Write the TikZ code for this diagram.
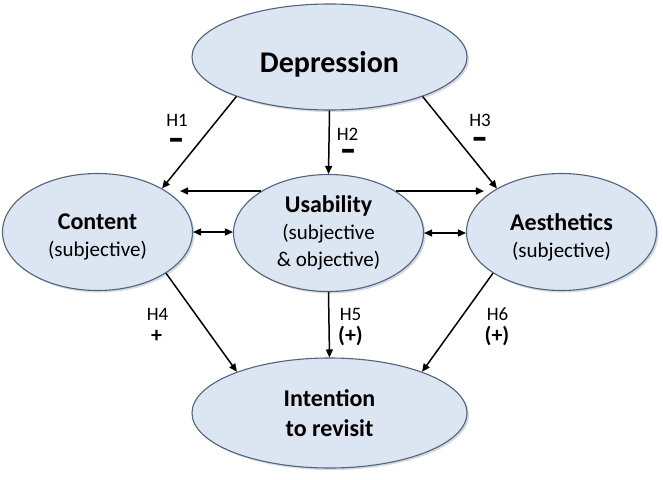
\documentclass[tikz,border=0pt]{standalone}
\usepackage{fontspec}
\setmainfont{Carlito}
\newfontfamily\dashfont{DejaVu Sans}
\usetikzlibrary{shapes.geometric,arrows.meta,calc,shadows}
\definecolor{efill}{HTML}{DCE6F2}
\definecolor{edraw}{HTML}{4F6480}
\begin{document}
\begin{tikzpicture}[x=1pt,y=-1pt,
  ell/.style={ellipse, draw=edraw, line width=1.1pt, fill=efill, inner sep=0pt, align=center,
    drop shadow={shadow xshift=2pt, shadow yshift=-2pt, opacity=0.25, fill=black!60}},
  midell/.style={ell, minimum width=190pt, minimum height=117pt},
  txt/.style={align=center, inner sep=0pt, font=\fontsize{21}{27}\selectfont},
  arr/.style={-{Triangle[length=8pt,width=7pt]}, line width=1.5pt},
  darr/.style={{Triangle[length=8pt,width=7pt]}-{Triangle[length=8pt,width=7pt]}, line width=1.5pt},
  hlab/.style={font=\fontsize{19}{19}\selectfont, anchor=base, inner sep=0pt},
  sgn/.style={font=\bfseries\fontsize{22}{22}\selectfont, inner sep=0pt},
  mns/.style={font=\dashfont\bfseries\fontsize{30}{30}\selectfont, inner sep=0pt},
  ]
\useasboundingbox (0,0) rectangle (663,479);
\node[ell, minimum width=275pt, minimum height=106pt, font=\bfseries\fontsize{30}{36}\selectfont, text height=30pt, text depth=0pt] (dep) at (329.5,57) {Depression};
\node[midell] (con) at (97.5,232) {};
\node[midell] (usa) at (328.5,233) {};
\node[midell] (aes) at (561.5,232) {};
\node[ell, minimum width=275pt, minimum height=110pt, font=\bfseries\fontsize{24}{30}\selectfont] (int) at (329.5,413) {Intention\\to revisit};

\node[txt] (cont) at ([yshift=-5pt]con.center) {{\bfseries\fontsize{24}{27}\selectfont Content}\\(subjective)};
\node[txt] (usat) at (usa.center) {{\bfseries\fontsize{24}{27}\selectfont Usability}\\(subjective\\\& objective)};
\node[txt] (aest) at ([yshift=-5pt]aes.center) {{\bfseries\fontsize{24}{27}\selectfont Aesthetics}\\(subjective)};

\draw[arr] (dep.203) -- (con.34);
\draw[arr] (dep.south) -- (usa.north);
\draw[arr] (dep.337) -- (aes.146);
\draw[arr] (usa.148) -- ($(usa.148 -| con.east)+(-13,0)$);
\draw[arr] (usa.32) -- ($(usa.32 -| aes.west)+(18,0)$);
\draw[darr] (con.east) -- (con.east -| usa.west);
\draw[darr] (usa.east) -- (usa.east -| aes.west);
\draw[arr] (con.329) -- (int.156);
\draw[arr] (usa.south) -- (int.north);
\draw[arr] (aes.211) -- (int.24);

\node[hlab] (h1) at (177,126) {H1};
\node[mns] (m1) at (176,143) {–};
\node[hlab] (h2) at (347.5,140) {H2};
\node[mns] (m2) at (348,154) {–};
\node[hlab] (h3) at (480,126) {H3};
\node[mns] (m3) at (479.5,142) {–};
\node[hlab] (h4) at (157.5,320) {H4};
\node[sgn] (p4) at (156.5,336) {+};
\node[hlab] (h5) at (350.5,320) {H5};
\node[sgn] (p5) at (350.5,336) {(+)};
\node[hlab] (h6) at (497.5,320) {H6};
\node[sgn] (p6) at (497,336) {(+)};
\end{tikzpicture}
\end{document}
